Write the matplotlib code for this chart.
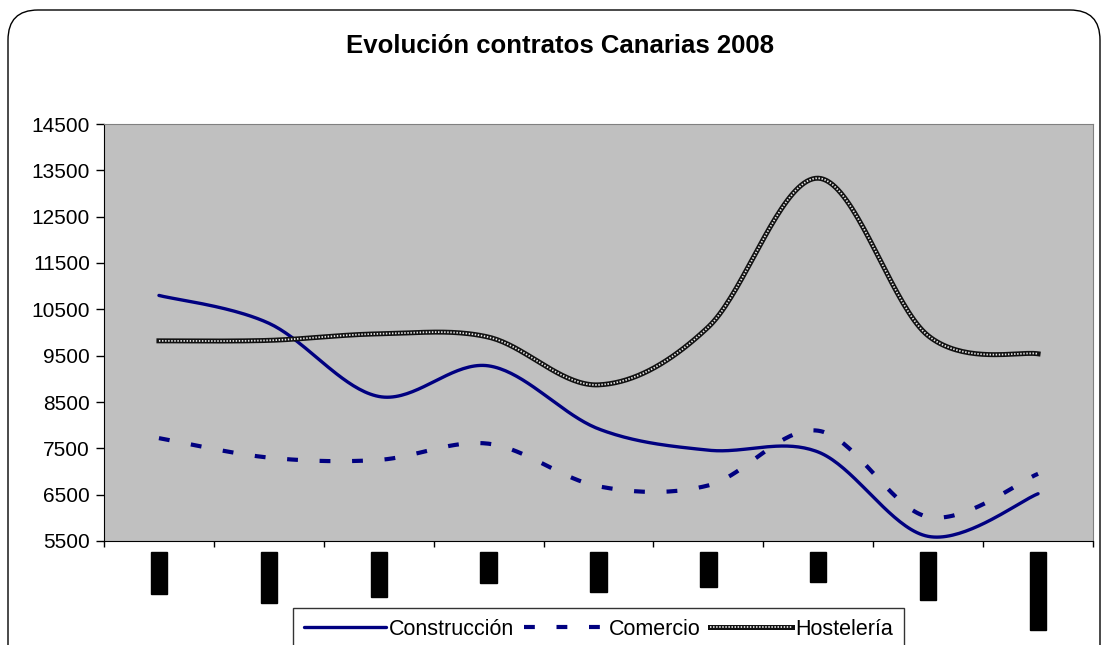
import numpy as np
import matplotlib
matplotlib.use("Agg")
import matplotlib.pyplot as plt
from matplotlib.patches import FancyBboxPatch
from matplotlib.legend_handler import HandlerTuple

plt.rcParams['font.family'] = ['Liberation Sans', 'DejaVu Sans']

months = ["enero", "febrero", "marzo", "abril", "mayo", "junio",
          "julio", "agosto", "septiembre"]
construccion = [10800, 10200, 8620, 9280, 7920, 7460, 7420, 5600, 6520]
comercio = [7720, 7300, 7250, 7600, 6680, 6700, 7880, 6020, 6950]
hosteleria = [9820, 9830, 9970, 9900, 8870, 10120, 13330, 9930, 9540]
yticks = list(range(5500, 14501, 1000))


def smooth(xs, ys, n=40):
  # Excel-like smoothed line: bezier with catmull-rom control points
  p = np.column_stack([xs, ys]).astype(float)
  out = [p[0]]
  for i in range(len(p) - 1):
    prev = p[i - 1] if i > 0 else p[i]
    nxt = p[i + 2] if i + 2 < len(p) else p[i + 1]
    c1 = p[i] + (p[i + 1] - prev) / 6
    c2 = p[i + 1] - (nxt - p[i]) / 6
    t = np.linspace(0, 1, n)[1:, None]
    seg = ((1 - t) ** 3 * p[i] + 3 * (1 - t) ** 2 * t * c1
           + 3 * (1 - t) * t ** 2 * c2 + t ** 3 * p[i + 1])
    out.extend(seg)
  out = np.array(out)
  return out[:, 0], out[:, 1]


fig = plt.figure(figsize=(11.07, 6.45), dpi=100)
ax = fig.add_axes([104 / 1107, 1 - 541 / 645, 989 / 1107, 417 / 645])
ax.set_facecolor('#c0c0c0')

x = np.arange(len(months)) + 0.5
navy = '#000080'

sx, sy = smooth(x, construccion)
l1, = ax.plot(sx, sy, color=navy, lw=2.4, solid_capstyle='round')

sx, sy = smooth(x, comercio)
l2, = ax.plot(sx, sy, color=navy, lw=3.0, linestyle=(0, (2.6, 5.2)),
              dash_capstyle='butt')

sx, sy = smooth(x, hosteleria)
l3a, = ax.plot(sx, sy, color='#111111', lw=3.6)
l3b, = ax.plot(sx, sy, color='#e8e8e8', lw=1.3, linestyle=(0, (0.8, 0.9)))

ax.set_xlim(0, len(months))
ax.set_ylim(5500, 14500)
ax.set_yticks(yticks)
ax.set_yticklabels([str(v) for v in yticks], fontsize=15)
ax.tick_params(axis='y', direction='out', length=6, width=1, pad=4)

ax.set_xticks(np.arange(len(months) + 1))
ax.set_xticklabels([])
ax.tick_params(axis='x', which='major', direction='out', length=4, width=1)
ax.set_xticks(x, minor=True)
ax.set_xticklabels(months, minor=True, rotation=90, fontsize=11,
                   color='black', va='top')
ax.tick_params(axis='x', which='minor', length=0, pad=9)
for lab in ax.get_xticklabels(minor=True):
  lab.set_bbox(dict(boxstyle='square,pad=0.08', facecolor='black',
                    edgecolor='black', lw=1))

for side in ['top', 'right']:
  ax.spines[side].set_color('#808080')
for side in ['left', 'bottom']:
  ax.spines[side].set_color('black')

fig.text(560 / 1107, 1 - 46 / 645, 'Evolución contratos Canarias 2008',
         ha='center', va='center', fontsize=18.5, fontweight='bold')

leg = fig.legend([l1, l2, (l3a, l3b)], ['Construcción', 'Comercio', 'Hostelería'],
                 handler_map={tuple: HandlerTuple(ndivide=1, pad=0)},
                 loc='upper left', bbox_to_anchor=(293 / 1107, 1 - 608 / 645),
                 ncol=3, fontsize=15.5, frameon=True, fancybox=False,
                 handlelength=3.8, handletextpad=0.15, columnspacing=0.45,
                 borderpad=0.5, borderaxespad=0)
leg.get_frame().set_edgecolor('black')
leg.get_frame().set_linewidth(1)

border = FancyBboxPatch((0.08, -0.4), 10.92, 6.75,
                        boxstyle='round,pad=0,rounding_size=0.3',
                        transform=fig.dpi_scale_trans, facecolor='none',
                        edgecolor='black', lw=1, clip_on=False)
fig.patches.append(border)

fig.savefig('out.png', dpi=100)
